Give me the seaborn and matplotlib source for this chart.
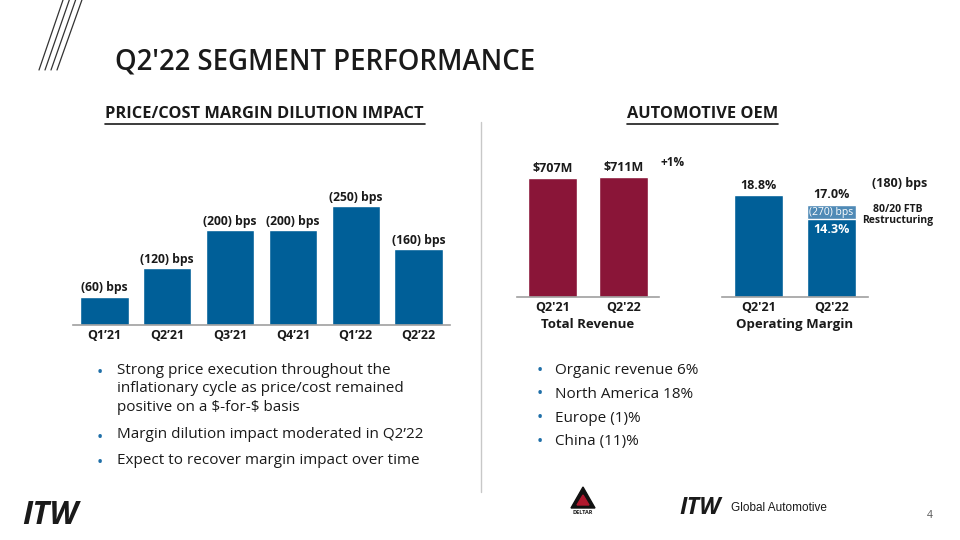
import matplotlib.pyplot as plt
import seaborn as sns
from matplotlib.lines import Line2D
from matplotlib.patches import Polygon

# --- data ---
quarters = ["Q1\u201921", "Q2\u201921", "Q3\u201921", "Q4\u201921", "Q1\u201922", "Q2\u201922"]
dilution_bps = [60, 120, 200, 200, 250, 160]

rev_periods = ["Q2'21", "Q2'22"]
revenue_m = [707, 711]
revenue_growth = "+1%"

om_periods = ["Q2'21", "Q2'22"]
om_excl_restructuring = [18.8, 17.0]
om_reported = [18.8, 14.3]
om_change_bps = 180
restructuring_bps = 270

left_bullets = [
    "Strong price execution throughout the\ninflationary cycle as price/cost remained\npositive on a \\$-for-\\$ basis",
    "Margin dilution impact moderated in Q2\u201922",
    "Expect to recover margin impact over time",
]
right_bullets = ["Organic revenue 6%", "North America 18%", "Europe (1)%", "China (11)%"]

# --- style ---
DARK_BLUE = "#005f98"
LIGHT_BLUE = "#4f8ab6"
MAROON = "#8a1538"
TEXT = "#1a1a1a"
BULLET = "#1f6fa8"
FONT = "Open Sans"

sns.set_style("white")
plt.rcParams["font.family"] = [FONT, "DejaVu Sans"]

W, H = 960, 540
fig = plt.figure(figsize=(9.6, 5.4), dpi=100)


def px_axes(x0, y_base, w, h):
    # place axes using pixel coords (y_base = baseline from top)
    return fig.add_axes([x0 / W, 1 - y_base / H, w / W, h / H])


def ftext(x, y, s, **kw):
    kw.setdefault("color", TEXT)
    kw.setdefault("va", "center")
    return fig.text(x / W, 1 - y / H, s, **kw)


def style_axes(ax):
    for side in ["top", "right", "left"]:
        ax.spines[side].set_visible(False)
    ax.spines["bottom"].set_color("#a0a0a0")
    ax.spines["bottom"].set_linewidth(1.2)
    ax.set_yticks([])
    ax.set_ylabel("")
    ax.tick_params(axis="x", length=0, pad=3)
    for lab in ax.get_xticklabels():
        lab.set_fontweight("bold")
        lab.set_fontsize(9)
        lab.set_color(TEXT)


# --- left chart: price/cost margin dilution ---
ax1 = px_axes(73, 325, 377, 160)
sns.barplot(x=quarters, y=dilution_bps, color=DARK_BLUE, width=0.77, saturation=1, ax=ax1)
ax1.set_xlim(-0.5, len(quarters) - 0.5)
ax1.set_ylim(0, 160 / 0.475)
style_axes(ax1)
for i, v in enumerate(dilution_bps):
    ax1.annotate(f"({v}) bps", (i, v), xytext=(0, 1.5), textcoords="offset points",
                 ha="center", va="bottom", fontsize=8.7, fontweight="bold", color=TEXT)

# --- revenue chart ---
ax2 = px_axes(517, 297, 142, 150)
sns.barplot(x=rev_periods, y=revenue_m, color=MAROON, width=0.69, saturation=1, ax=ax2)
ax2.set_xlim(-0.5, 1.5)
ax2.set_ylim(0, 150 * 707 / 119)
style_axes(ax2)
ax2.set_xlabel("Total Revenue", fontsize=9.5, fontweight="bold", color=TEXT, labelpad=3)
for i, v in enumerate(revenue_m):
    ax2.annotate(f"\\${v}M", (i, v), xytext=(0, 2.5), textcoords="offset points",
                 ha="center", va="bottom", fontsize=9, fontweight="bold", color=TEXT)
ftext(673, 162, revenue_growth, fontsize=8.5, fontweight="bold", ha="center")

# --- operating margin chart ---
ax3 = px_axes(722, 297, 146, 150)
sns.barplot(x=om_periods, y=om_excl_restructuring, hue=om_periods,
            palette=[DARK_BLUE, LIGHT_BLUE], width=0.67, saturation=1, legend=False, ax=ax3)
sns.barplot(x=om_periods, y=om_reported, color=DARK_BLUE, width=0.67, saturation=1, ax=ax3)
ax3.set_xlim(-0.5, 1.5)
ax3.set_ylim(0, 150 * 18.8 / 102)
style_axes(ax3)
ax3.set_xlabel("Operating Margin", fontsize=9.5, fontweight="bold", color=TEXT, labelpad=3)
for i, v in enumerate(om_excl_restructuring):
    ax3.annotate(f"{v:.1f}%", (i, v), xytext=(0, 2.5), textcoords="offset points",
                 ha="center", va="bottom", fontsize=9, fontweight="bold", color=TEXT)
ax3.annotate(f"({restructuring_bps}) bps",
             (1, (om_excl_restructuring[1] + om_reported[1]) / 2),
             ha="center", va="center", fontsize=7.5, color="white")
ax3.annotate(f"{om_reported[1]:.1f}%", (1, om_reported[1]), xytext=(0, -2.5),
             textcoords="offset points", ha="center", va="top",
             fontsize=9, fontweight="bold", color="white")
ftext(900, 183, f"({om_change_bps}) bps", fontsize=9, fontweight="bold", ha="center")
ftext(898, 215, "80/20 FTB\nRestructuring", fontsize=7.5, fontweight="bold",
      ha="center", linespacing=1.0)

# --- titles ---
ftext(115, 62, "Q2'22 SEGMENT PERFORMANCE", fontsize=19.8, fontweight="semibold", ha="left")
ftext(105, 114, "PRICE/COST MARGIN DILUTION IMPACT", fontsize=11.8, fontweight="bold", ha="left")
ftext(627, 114, "AUTOMOTIVE OEM", fontsize=11.8, fontweight="bold", ha="left")
fig.add_artist(Line2D([105 / W, 425 / W], [1 - 124 / H] * 2, color=TEXT, lw=1.2))
fig.add_artist(Line2D([627 / W, 778 / W], [1 - 124 / H] * 2, color=TEXT, lw=1.2))

# decorative slashes top-left
for k in range(4):
    fig.add_artist(Line2D([(39 + 6 * k) / W, (63 + 6.3 * k) / W], [1 - 70 / H, 1.0],
                          color="#333333", lw=0.9))

# divider
fig.add_artist(Line2D([481 / W] * 2, [1 - 122 / H, 1 - 492 / H], color="#c8c8c8", lw=1))

# --- bullets ---
y = 373
for b in left_bullets:
    ftext(97, y, "\u2022", fontsize=12, color=BULLET, ha="left")
    fig.text(117 / W, 1 - (y - 10) / H, b, fontsize=11, ha="left", va="top",
             color=TEXT, linespacing=1.3)
    y += 19.5 * (b.count("\n") + 1) + 6

y = 371
for b in right_bullets:
    ftext(537, y, "\u2022", fontsize=12, color=BULLET, ha="left")
    ftext(555, y, b, fontsize=11, ha="left")
    y += 23.5

# --- footer logos ---
ftext(22, 516, "ITW", fontsize=23, fontweight="bold", style="italic", ha="left")
fig.add_artist(Polygon([[571 / W, 1 - 508 / H], [583 / W, 1 - 487 / H], [595 / W, 1 - 508 / H]],
                       closed=True, color="#111111", transform=fig.transFigure))
fig.add_artist(Polygon([[577 / W, 1 - 505 / H], [583 / W, 1 - 495 / H], [589 / W, 1 - 505 / H]],
                       closed=True, color="#b0182e", transform=fig.transFigure))
ftext(583, 513, "DELTAR", fontsize=4, fontweight="bold", ha="center")
ftext(679, 508, "ITW", fontsize=17, fontweight="bold", style="italic", ha="left")
ftext(731, 508, "Global Automotive", fontsize=8.5, ha="left", family="Liberation Sans")
ftext(930, 516, "4", fontsize=7.5, ha="center", color="#555555")

fig.savefig("out.png", dpi=100)
